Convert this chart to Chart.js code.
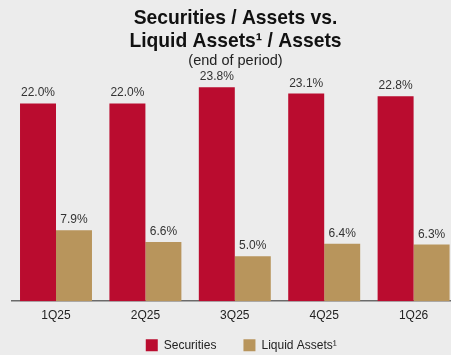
<!DOCTYPE html>
<html>
<head>
<meta charset="utf-8">
<script src="https://cdn.jsdelivr.net/npm/chart.js@4/dist/chart.umd.min.js"></script>
<style>
  html, body { margin: 0; padding: 0; background: #ececec; }
  #wrap { width: 451px; height: 355px; overflow: hidden; position: relative; }
  #c { display: block; }
</style>
</head>
<body>
<div id="wrap"><canvas id="c" width="470" height="355"></canvas></div>
<script>
// Quarter-end ratios, in percent of total assets
const quarters = ['1Q25', '2Q25', '3Q25', '4Q25', '1Q26'];
const securities = [22.0, 22.0, 23.8, 23.1, 22.8];
const liquidAssets = [7.9, 6.6, 5.0, 6.4, 6.3];
const seriesNames = ['Securities', 'Liquid Assets\u00B9'];
const titleLines = ['Securities / Assets vs.', 'Liquid Assets\u00B9 / Assets'];
const subtitleText = '(end of period)';

const FONT = '"Liberation Sans", Arial, sans-serif';

// Title block and value labels above each bar
const annotate = {
  id: 'annotate',
  afterLayout(chart) {
    // legend row sits just under the category labels, slightly right of centre
    const lg = chart.legend;
    if (lg) {
      lg.left += 6.5;
      lg.right += 6.5;
      lg.top = 312.3;
      lg.bottom = chart.height;
      lg.height = lg.bottom - lg.top;
    }
  },
  afterDatasetsDraw(chart) {
    const ctx = chart.ctx;
    const area = chart.chartArea;
    const cx = (area.left + area.right) / 2 + 0.7;
    ctx.save();
    ctx.textAlign = 'center';
    ctx.textBaseline = 'alphabetic';
    ctx.fillStyle = '#111111';
    ctx.font = 'bold 19.3px ' + FONT;
    ctx.fillText(titleLines[0], cx, 24);
    ctx.fillText(titleLines[1], cx, 47);
    ctx.font = '14.5px ' + FONT;
    ctx.fillStyle = '#222222';
    ctx.fillText(subtitleText, cx, 65);

    ctx.font = '12px ' + FONT;
    ctx.fillStyle = '#333333';
    chart.data.datasets.forEach((ds, di) => {
      const meta = chart.getDatasetMeta(di);
      meta.data.forEach((bar, i) => {
        ctx.fillText(ds.data[i].toFixed(1) + '%', bar.x, bar.y - 7);
      });
    });
    ctx.restore();
  }
};

new Chart(document.getElementById('c'), {
  type: 'bar',
  data: {
    labels: quarters,
    datasets: [
      { label: seriesNames[0], data: securities, backgroundColor: '#ba0c2f' },
      { label: seriesNames[1], data: liquidAssets, backgroundColor: '#b8955c' }
    ]
  },
  options: {
    responsive: false,
    animation: false,
    events: [],
    categoryPercentage: 0.805,
    barPercentage: 1.0,
    layout: { padding: { top: 76.5, left: 11.3, right: 11.7, bottom: 0 } },
    scales: {
      x: {
        grid: { display: false, drawTicks: false },
        border: { display: true, color: '#6b6b6b', width: 1.5 },
        ticks: { color: '#222222', font: { family: FONT, size: 12 }, padding: 7.5 }
      },
      y: { display: false, min: 0, max: 25 }
    },
    plugins: {
      tooltip: { enabled: false },
      legend: {
        position: 'bottom',
        maxHeight: 24.4,
        labels: {
          boxWidth: 12,
          boxHeight: 12,
          padding: 27,
          color: '#222222',
          font: { family: FONT, size: 12 }
        }
      }
    }
  },
  plugins: [annotate]
});
</script>
</body>
</html>
